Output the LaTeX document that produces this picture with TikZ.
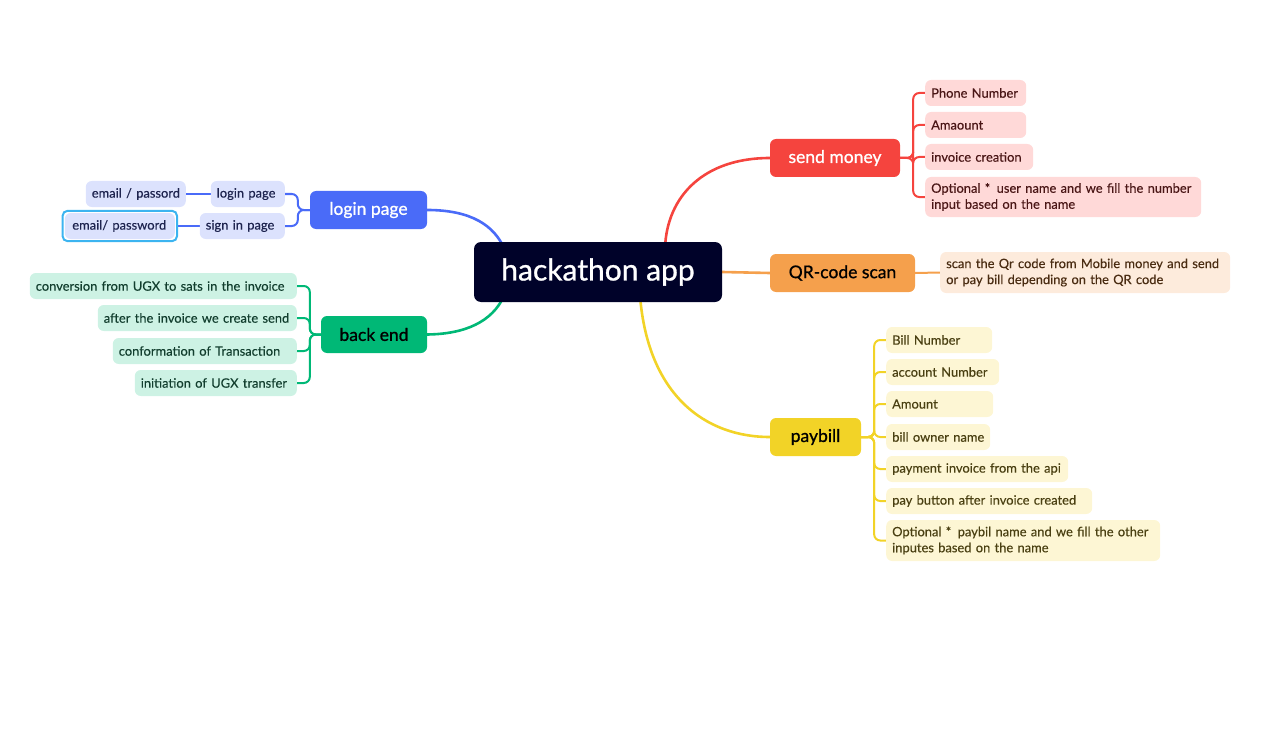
\documentclass[tikz,border=0pt]{standalone}
\usepackage{fontspec}
\setmainfont{Lato}[FakeBold=0.25]
\newfontfamily\medfont{Lato}[FakeBold=0.9]
\usetikzlibrary{backgrounds,fit}
\definecolor{cnav}{HTML}{000229}
\definecolor{cblue}{HTML}{4A6BF8}
\definecolor{cred}{HTML}{F5443E}
\definecolor{corange}{HTML}{F5A04C}
\definecolor{cyellow}{HTML}{F2D327}
\definecolor{cgreen}{HTML}{00B876}
\definecolor{lblue}{HTML}{DCE2FD}
\definecolor{lgreen}{HTML}{CDF2E4}
\definecolor{lred}{HTML}{FFD9D8}
\definecolor{lorange}{HTML}{FDEBDC}
\definecolor{lyellow}{HTML}{FDF6D4}
\definecolor{tblue}{HTML}{1E244F}
\definecolor{tgreen}{HTML}{123E2E}
\definecolor{tred}{HTML}{4A1616}
\definecolor{torange}{HTML}{4A2C12}
\definecolor{tyellow}{HTML}{4A4012}
\definecolor{cselect}{HTML}{3CB4F0}
\begin{document}
\begin{tikzpicture}[x=1pt,y=-1pt,
  leaf/.style={fill=#1, rounded corners=6pt, inner xsep=6pt, inner ysep=0pt,
    minimum height=26pt, font=\fontsize{12.9}{16}\selectfont, align=left},
  twoline/.style={minimum height=41pt},
  branch/.style={fill=#1, rounded corners=6pt, inner sep=0pt, minimum height=38pt,
    font=\medfont\fontsize{17.5}{20}\selectfont},
  conn/.style={draw=#1, line width=2pt, rounded corners=6pt},
  mainconn/.style={draw=#1, line width=2.6pt},
]
\useasboundingbox (0,0) rectangle (1283,749);

% central
\node[fill=cnav, rounded corners=7pt, minimum width=248pt, minimum height=60pt,
  text=white, font=\medfont\fontsize{30}{34}\selectfont] (cen) at (598,272) {hackathon app};

% branches
\node[branch=cblue, minimum width=117pt, text=white] (lp) at (368.5,210) {login page};
\node[branch=cgreen, minimum width=106pt, minimum height=37pt, text=black] (be) at (374,334.5) {back end};
\node[branch=cred, minimum width=130pt, text=white] (sm) at (835,158) {send money};
\node[branch=corange, minimum width=145pt, text=black] (qr) at (842.5,273) {QR-code scan};
\node[branch=cyellow, minimum width=91pt, text=black] (pb) at (815.5,437) {paybill};

% login children
\node[leaf=lblue, text=tblue, text width=62pt, anchor=east] (lc1) at (285,194) {\mbox{login page}};
\node[leaf=lblue, text=tblue, text width=88pt, anchor=east] (lc1a) at (186,194) {\mbox{email / passord}};
\node[leaf=lblue, text=tblue, text width=73pt, anchor=east] (lc2) at (285,226) {\mbox{sign in page}};
\node[leaf=lblue, text=tblue, text width=95pt, inner xsep=7.5pt, anchor=east] (lc2a) at (175,226) {\mbox{email/ password}};
\node[draw=cselect, line width=2pt, rounded corners=5pt, inner sep=2pt, fit=(lc2a)] (sel) {};

% back end children
\node[leaf=lgreen, text=tgreen, text width=255pt, anchor=east] (bc1) at (297,286) {\mbox{conversion from UGX to sats in the invoice}};
\node[leaf=lgreen, text=tgreen, text width=187pt, anchor=east] (bc2) at (297,318) {\mbox{after the invoice we create send}};
\node[leaf=lgreen, text=tgreen, text width=172pt, anchor=east] (bc3) at (297,351) {\mbox{conformation of Transaction}};
\node[leaf=lgreen, text=tgreen, text width=150pt, anchor=east] (bc4) at (297,383) {\mbox{initiation of UGX transfer}};

% send money children
\node[leaf=lred, text=tred, text width=89pt, anchor=west] (sc1) at (925,93) {\mbox{Phone Number}};
\node[leaf=lred, text=tred, text width=89pt, anchor=west] (sc2) at (925,125) {\mbox{Amaount}};
\node[leaf=lred, text=tred, text width=96pt, anchor=west] (sc3) at (925,157) {\mbox{invoice creation}};
\node[leaf=lred, twoline, minimum height=40pt, text=tred, text width=264pt, anchor=west] (sc4) at (925,197) {\mbox{Optional *\, user name and we fill the number}\\\mbox{input based on the name}};

% qr child
\node[leaf=lorange, twoline, text=torange, text width=278pt, anchor=west] (qc1) at (940,272.5) {\mbox{scan the Qr code from Mobile money and send}\\\mbox{or pay bill depending on the QR code}};

% paybill children
\node[leaf=lyellow, text=tyellow, text width=94pt, anchor=west] (pc1) at (886,340) {\mbox{Bill Number}};
\node[leaf=lyellow, text=tyellow, text width=101pt, anchor=west] (pc2) at (886,372) {\mbox{account Number}};
\node[leaf=lyellow, text=tyellow, text width=95pt, anchor=west] (pc3) at (886,404) {\mbox{Amount}};
\node[leaf=lyellow, text=tyellow, text width=92pt, anchor=west] (pc4) at (886,437) {\mbox{bill owner name}};
\node[leaf=lyellow, text=tyellow, text width=170pt, anchor=west] (pc5) at (886,469) {\mbox{payment invoice from the api}};
\node[leaf=lyellow, text=tyellow, text width=194pt, anchor=west] (pc6) at (886,501) {\mbox{pay button after invoice created}};
\node[leaf=lyellow, twoline, text=tyellow, text width=262pt, anchor=west] (pc7) at (886,540.5) {\mbox{Optional *\, paybil name and we fill the other}\\\mbox{inputes based on the name}};

\begin{scope}[on background layer]
  % main curves
  \draw[mainconn=cblue] (lp.east) .. controls (472,210) and (494,226) .. (504,248);
  \draw[mainconn=cred] (665,248) .. controls (667,195) and (705,158) .. (sm.west);
  \draw[mainconn=corange] (cen.east) -- (qr.west);
  \draw[mainconn=cyellow] (640,296) .. controls (648,395) and (705,437) .. (pb.west);
  \draw[mainconn=cgreen] (504,296) .. controls (492,322) and (465,334) .. (be.east);
  % login brackets
  \draw[conn=cblue] (lp.west) -- ++(-12,0) |- (lc1.east);
  \draw[conn=cblue] (lp.west) -- ++(-12,0) |- (lc2.east);
  \draw[conn=cblue] (lc1.west) -- (lc1a.east);
  \draw[conn=cblue] (lc2.west) -- (sel.east);
  % back end
  \foreach \n in {bc1,bc2,bc3,bc4}
    \draw[conn=cgreen] (be.west) -- ++(-11,0) |- (\n.east);
  % send money
  \foreach \n in {sc1,sc2,sc3,sc4}
    \draw[conn=cred] (sm.east) -- ++(13,0) |- (\n.west);
  % qr
  \draw[conn=corange] (qr.east) -- (qc1.west);
  % paybill
  \foreach \n in {pc1,pc2,pc3,pc4,pc5,pc6,pc7}
    \draw[conn=cyellow] (pb.east) -- ++(13,0) |- (\n.west);
\end{scope}
\end{tikzpicture}
\end{document}
